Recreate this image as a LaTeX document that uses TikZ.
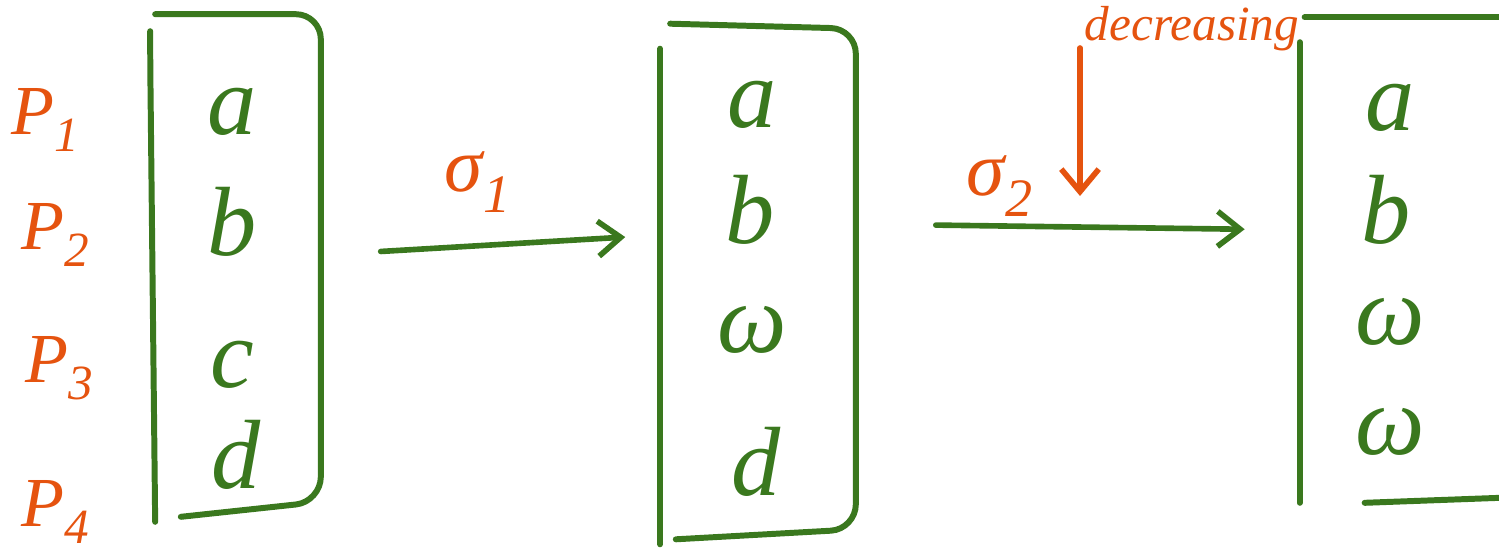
\documentclass[tikz,border=0pt]{standalone}
\usepackage{fontspec}
\setmainfont{Liberation Serif}
\usepackage{tikz}
\usetikzlibrary{arrows.meta, positioning}

\definecolor{inkgreen}{RGB}{58,120,30}
\definecolor{inkorange}{RGB}{229,83,15}

\begin{document}
\begin{tikzpicture}[
    x=0.02cm, y=-0.02cm,
    entry/.style={inkgreen, font=\fontsize{56}{56}\selectfont\itshape, inner sep=0pt},
    plabel/.style={inkorange, font=\fontsize{40}{40}\selectfont\itshape, inner sep=0pt},
    slabel/.style={inkorange, font=\fontsize{44}{44}\selectfont\itshape, inner sep=0pt},
    vecbox/.style={draw=none, rectangle, inner sep=0pt},
    bracket/.style={inkgreen, line width=3.4pt, line cap=round, line join=round, rounded corners=0.5cm},
    arrow/.style={-{Straight Barb[length=0.45cm, width=0.7cm, line width=3.2pt]}, line width=3.2pt, line cap=round, inkgreen},
    downarrow/.style={-{Straight Barb[length=0.45cm, width=0.75cm, line width=3.2pt]}, line width=3.2pt, line cap=round, inkorange}
]
\clip (0,0) rectangle (1499,558);

% the three vectors
\node[vecbox, minimum width=3.5cm, minimum height=10.14cm] (box1) at (233,268) {};
\node[vecbox, minimum width=3.9cm, minimum height=10.4cm]  (box2) at (758,284) {};
\node[vecbox, minimum width=4cm,   minimum height=10.1cm]  (box3) at (1400,270) {};

\node[entry] (a1) at (232,112) {a};
\node[entry] (b1) at (232,222) {b};
\node[entry] (c1) at (232,365) {c};
\node[entry] (d1) at (236,455) {d};

\node[entry] (a2) at (752,105) {a};
\node[entry] (b2) at (750,210) {b};
\node[entry] (w2) at (752,330) {ω};
\node[entry] (d2) at (756,462) {d};

\node[entry] (a3) at (1390,108) {a};
\node[entry] (b3) at (1386,210) {b};
\node[entry] (w3) at (1390,322) {ω};
\node[entry] (x3) at (1390,432) {ω};

% processes
\node[plabel] (p1) at (46,120) {P\textsubscript{1}};
\node[plabel] (p2) at (56,235) {P\textsubscript{2}};
\node[plabel] (p3) at (60,368) {P\textsubscript{3}};
\node[plabel] (p4) at (56,512) {P\textsubscript{4}};

% brackets
\draw[bracket] (box1.north west) ++(5,40) -- ++(0,2) -- ([xshift=0.2cm]box1.south west);
\draw[bracket] ([xshift=0.2cm]box1.north west) -- (box1.north east) -- ([yshift=0.4cm]box1.south east) -- ++(-140,15);
\draw[bracket] ([yshift=-0.5cm]box2.north west) -- (box2.south west);
\draw[bracket] ([xshift=0.2cm]box2.north west) -- ([yshift=-0.1cm]box2.north east) -- ([yshift=0.3cm]box2.south east) -- ++(-180,10);
\draw[bracket] ([yshift=-0.5cm]box3.north west) -- ([yshift=0.4cm]box3.south west);
\draw[bracket] ([xshift=0.1cm]box3.north west) -- (box3.north east);
\draw[bracket] ([yshift=0.4cm, xshift=1.3cm]box3.south west) -- ([yshift=0.5cm]box3.south east);

% maps
\draw[arrow, shorten <=1.2cm, shorten >=0.7cm] ([yshift=0.26cm]box1.east) -- ([yshift=0.98cm]box2.west);
\node[slabel] (s1) at (478,182) {σ\textsubscript{1}};
\draw[arrow, shorten <=1.6cm, shorten >=1.1cm] ([yshift=1.2cm]box2.east) -- ([yshift=0.8cm]box3.west);
\node[slabel] (s2) at (1000,186) {σ\textsubscript{2}};

% decreasing
\node[inkorange, font=\fontsize{28}{28}\selectfont\itshape, anchor=base, inner sep=0pt,
      text height=0.72em, text depth=0.22em] (dec) at (1192,40) {decreasing};
\coordinate (dtop) at (1080,48);
\coordinate (dtip) at (1080,196);
\draw[downarrow] (dtop) -- (dtip);
\end{tikzpicture}
\end{document}
